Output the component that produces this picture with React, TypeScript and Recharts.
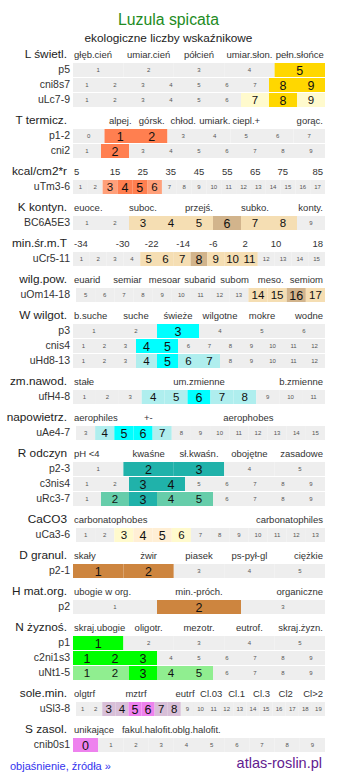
import React from 'react';
import { BarChart, Bar, XAxis, YAxis, Cell, LabelList } from 'recharts';

const FONT = '"Liberation Sans", Arial, Helvetica, sans-serif';
const GREY = '#eeeeee';
const LEFT = 73;
const RIGHT = 325;
const PAD = 3 / 252;

type Row = { name: string; from: number; to: number; strong: number[]; light?: number[]; pad?: boolean };
type Head = [string, number];

// ---- L świetl.
const L_HEADER: Head[] = [['głęb.cień', 0], ['umiar.cień', 1.5], ['półcień', 2.5], ['umiar.słon.', 3.5], ['pełn.słońce', 4.5]];
const L_ROWS: Row[] = [
  { name: 'p5', from: 1, to: 5, strong: [5] },
  { name: 'cni8s7', from: 1, to: 9, strong: [8, 9] },
  { name: 'uLc7-9', from: 1, to: 9, strong: [8], light: [7, 9] },
];
// ---- T termicz.
const T_HEADER: Head[] = [['alpej.', 1.5], ['górsk.', 2.5], ['chłod.', 3.5], ['umiark.', 4.5], ['ciepl.+', 5.5], ['gorąc.', 8]];
const T_ROWS: Row[] = [
  { name: 'p1-2', from: 0, to: 7, strong: [1, 2] },
  { name: 'cni2', from: 1, to: 9, strong: [2] },
];
// ---- kcal/cm2*r
const KCAL_HEADER: Head[] = [['5', 0], ['15', 2.83], ['25', 4.7], ['35', 6.6], ['45', 8.5], ['55', 10.4], ['65', 12.3], ['75', 14.15], ['85', 17]];
const KCAL_ROWS: Row[] = [{ name: 'uTm3-6', from: 1, to: 17, strong: [4, 5], light: [3, 6] }];
// ---- K kontyn.
const K_HEADER: Head[] = [['euoce.', 0], ['suboc.', 2.5], ['przejś.', 4.5], ['subko.', 6.5], ['konty.', 9]];
const K_ROWS: Row[] = [{ name: 'BC6A5E3', from: 1, to: 9, strong: [6], light: [3, 4, 5, 7, 8] }];
// ---- min.śr.m.T
const MT_HEADER: Head[] = [['-34', 0], ['-30', 2.96], ['-22', 4.68], ['-14', 6.56], ['-6', 8.35], ['2', 10.24], ['10', 12.08], ['18', 15]];
const MT_ROWS: Row[] = [{ name: 'uCr5-11', from: 1, to: 15, strong: [8], light: [5, 6, 7, 9, 10, 11] }];
// ---- wilg.pow.
const WP_HEADER: Head[] = [['euarid', 0], ['semiar', 2.69], ['mesoar', 4.63], ['subarid', 6.47], ['subom', 8.28], ['meso.', 10.17], ['semiom', 13]];
const WP_ROWS: Row[] = [{ name: 'uOm14-18', from: 5, to: 17, strong: [16], light: [14, 15, 17], pad: true }];
// ---- W wilgot.
const W_HEADER: Head[] = [['b.suche', 0], ['suche', 1.5], ['świeże', 2.5], ['wilgotne', 3.5], ['mokre', 4.5], ['wodne', 6]];
const W_ROWS: Row[] = [
  { name: 'p3', from: 1, to: 6, strong: [3] },
  { name: 'cnis4', from: 1, to: 12, strong: [4, 5] },
  { name: 'uHd8-13', from: 1, to: 12, strong: [5], light: [4, 6, 7] },
];
// ---- zm.nawod.
const ZN_HEADER: Head[] = [['stałe', 0], ['um.zmienne', 5.5], ['b.zmienne', 11]];
const ZN_ROWS: Row[] = [{ name: 'ufH4-8', from: 1, to: 11, strong: [6], light: [4, 5, 7, 8] }];
// ---- napowietrz.
const NP_HEADER: Head[] = [['aerophiles', 0], ['+-', 3.78], ['aerophobes', 9.0]];
const NP_ROWS: Row[] = [{ name: 'uAe4-7', from: 3, to: 15, strong: [5, 6], light: [4, 7], pad: true }];
// ---- R odczyn
const R_HEADER: Head[] = [['pH <4', 0], ['kwaśne', 1.5], ['sł.kwaśn.', 2.5], ['obojętne', 3.5], ['zasadowe', 5]];
const R_ROWS: Row[] = [
  { name: 'p2-3', from: 1, to: 5, strong: [2, 3] },
  { name: 'c3nis4', from: 1, to: 9, strong: [3, 4] },
  { name: 'uRc3-7', from: 1, to: 9, strong: [3], light: [2, 4, 5] },
];
// ---- CaCO3
const CA_HEADER: Head[] = [['carbonatophobes', 0], ['carbonatophiles', 13]];
const CA_ROWS: Row[] = [{ name: 'uCa3-6', from: 1, to: 13, strong: [4, 5], light: [3, 6], pad: true }];
// ---- D granul.
const D_HEADER: Head[] = [['skały', 0], ['żwir', 1.5], ['piasek', 2.5], ['ps-pył-gl', 3.5], ['ciężkie', 5]];
const D_ROWS: Row[] = [{ name: 'p2-1', from: 1, to: 5, strong: [1, 2] }];
// ---- H mat.org.
const H_HEADER: Head[] = [['ubogie w org.', 0], ['min.-próch.', 1.5], ['organiczne', 3]];
const H_ROWS: Row[] = [{ name: 'p2', from: 1, to: 3, strong: [2] }];
// ---- N żyznoś.
const N_HEADER: Head[] = [['skraj.ubogie', 0], ['oligotr.', 1.5], ['mezotr.', 2.5], ['eutrof.', 3.5], ['skraj.żyzn.', 5]];
const N_ROWS: Row[] = [
  { name: 'p1', from: 1, to: 5, strong: [1] },
  { name: 'c2ni1s3', from: 1, to: 9, strong: [1, 2, 3] },
  { name: 'uNt1-5', from: 1, to: 9, strong: [3], light: [1, 2, 4, 5] },
];
// ---- sole.min.
const SM_HEADER: Head[] = [['olgtrf', 0], ['mztrf', 4.58], ['eutrf', 8.32], ['Cl.03', 10.31], ['Cl.1', 12.26], ['Cl.3', 14.16], ['Cl2', 16.0], ['Cl>2', 19]];
const SM_ROWS: Row[] = [{ name: 'uSl3-8', from: 1, to: 19, strong: [5, 6], light: [3, 4, 7, 8], pad: true }];
// ---- S zasol.
const S_HEADER: Head[] = [['unikające', 0], ['fakul.halofit.', 2.95], ['oblg.halofit.', 4.9]];
const S_ROWS: Row[] = [{ name: 'cnib0s1', from: 0, to: 9, strong: [0] }];

const GROUPS = [
  { title: 'L świetl.', header: L_HEADER, rows: L_ROWS, colors: ['#ffd700', '#fffacd'] },
  { title: 'T termicz.', header: T_HEADER, rows: T_ROWS, colors: ['#ff7f50', '#ffa07a'] },
  { title: 'kcal/cm2*r', header: KCAL_HEADER, rows: KCAL_ROWS, colors: ['#ff7f50', '#ffa07a'] },
  { title: 'K kontyn.', header: K_HEADER, rows: K_ROWS, colors: ['#d2b48c', '#f5deb3'] },
  { title: 'min.śr.m.T', header: MT_HEADER, rows: MT_ROWS, colors: ['#d2b48c', '#f5deb3'] },
  { title: 'wilg.pow.', header: WP_HEADER, rows: WP_ROWS, colors: ['#d2b48c', '#f5deb3'] },
  { title: 'W wilgot.', header: W_HEADER, rows: W_ROWS, colors: ['#00ffff', '#afeeee'] },
  { title: 'zm.nawod.', header: ZN_HEADER, rows: ZN_ROWS, colors: ['#00ffff', '#afeeee'] },
  { title: 'napowietrz.', header: NP_HEADER, rows: NP_ROWS, colors: ['#00ffff', '#afeeee'] },
  { title: 'R odczyn', header: R_HEADER, rows: R_ROWS, colors: ['#20b2aa', '#66cdaa'] },
  { title: 'CaCO3', header: CA_HEADER, rows: CA_ROWS, colors: ['#ffefd5', '#fffacd'] },
  { title: 'D granul.', header: D_HEADER, rows: D_ROWS, colors: ['#cd853f', '#deb887'] },
  { title: 'H mat.org.', header: H_HEADER, rows: H_ROWS, colors: ['#cd853f', '#deb887'] },
  { title: 'N żyznoś.', header: N_HEADER, rows: N_ROWS, colors: ['#00ff00', '#90ee90'] },
  { title: 'sole.min.', header: SM_HEADER, rows: SM_ROWS, colors: ['#ee82ee', '#d8bfd8'] },
  { title: 'S zasol.', header: S_HEADER, rows: S_ROWS, colors: ['#ee82ee', '#d8bfd8'] },
];

const MAXC = 19;
const KEYS = Array.from({ length: MAXC }, (_, i) => i);
const HEAD_H = 21;
const ROW_H = 15;

function renderCellLabel(p: any) {
  const { value } = p;
  if (!value) return null;
  const x = Number(p.x), y = Number(p.y), w = Number(p.width), h = Number(p.height);
  const [lv, t] = String(value).split('|');
  const L = Number(lv);
  const fs = L === 2 ? 12.5 : L === 1 ? 11.5 : 6;
  return (
    <text x={x + w / 2} y={y + h / 2} dy={L ? fs * 0.36 : 2.2} textAnchor="middle" fontSize={fs}
      fill={L ? '#111' : '#555'} fontFamily={FONT}>{t}</text>
  );
}

function GroupChart({ g }: { g: any }) {
  const rows: Row[] = g.rows;
  const data = rows.map((r) => {
    const n = r.to - r.from + 1;
    const pad = r.pad ? PAD : 0;
    const w = (1 - pad) / n;
    const d: any = { name: r.name, pad };
    KEYS.forEach((i) => {
      if (i < n) {
        const v = r.from + i;
        const lvl = r.strong.includes(v) ? 2 : (r.light || []).includes(v) ? 1 : 0;
        d['c' + i] = w;
        d['t' + i] = lvl + '|' + v;
        d['l' + i] = lvl;
      } else {
        d['c' + i] = 0;
        d['t' + i] = '';
        d['l' + i] = 0;
      }
    });
    return d;
  });
  const ref = rows[0];
  const n0 = ref.to - ref.from + 1;
  const pad0 = ref.pad ? PAD : 0;
  const header: Head[] = g.header;
  const fr = header.map(([, p]) => (p <= 0 ? pad0 : p >= n0 ? 1 : pad0 + (p * (1 - pad0)) / n0));
  const height = HEAD_H + ROW_H * rows.length;

  const HeaderTick = (props: any) => {
    const idx = props.index;
    const item = header[idx];
    if (!item) return null;
    const [label, p] = item;
    let anchor: any = 'middle';
    let tx = Number(props.x);
    if (p <= 0) { anchor = 'start'; tx = LEFT + 1; }
    else if (p >= n0) { anchor = 'end'; tx = RIGHT - 2; }
    return <text x={tx} y={17} textAnchor={anchor} fontSize={9.5} fill="#333" fontFamily={FONT}>{label}</text>;
  };
  const RowTick = (props: any) => (
    <text x={70} y={Number(props.y)} dy={3.7} textAnchor="end" fontSize={10.5} fill="#333" fontFamily={FONT}>
      {props.payload.value}
    </text>
  );

  return (
    <div style={{ position: 'relative', width: 337, height }}>
      <div style={{ position: 'absolute', left: 0, top: 5, width: 67, textAlign: 'right', fontSize: 11.8,
        lineHeight: '16px', color: '#222', fontFamily: FONT, whiteSpace: 'nowrap' }}>{g.title}</div>
      <BarChart layout="vertical" width={337} height={height} data={data}
        margin={{ top: 0, right: 12, bottom: 0, left: 0 }} barCategoryGap={0} style={{ position: 'absolute', left: 0, top: 0 }}>
        <XAxis type="number" orientation="top" domain={[0, 1]} allowDataOverflow ticks={fr} interval={0}
          height={HEAD_H} axisLine={false} tickLine={false} tick={HeaderTick} />
        <YAxis type="category" dataKey="name" width={LEFT} axisLine={false} tickLine={false} interval={0} tick={RowTick} />
        <Bar dataKey="pad" stackId="s" fill="rgba(0,0,0,0)" isAnimationActive={false} barSize={14} />
        {KEYS.map((i) => (
          <Bar key={i} dataKey={'c' + i} stackId="s" isAnimationActive={false} barSize={14}>
            {data.map((d, ri) => (
              <Cell key={ri} fill={d['l' + i] === 2 ? g.colors[0] : d['l' + i] === 1 ? g.colors[1] : GREY} />
            ))}
            <LabelList dataKey={'t' + i} content={renderCellLabel} />
          </Bar>
        ))}
      </BarChart>
    </div>
  );
}

export default function App() {
  return (
    <div style={{ position: 'absolute', left: 0, top: 0, width: 337, height: 781, background: '#fff', fontFamily: FONT }}>
      <div style={{ position: 'absolute', top: 8, left: 0, width: 337, textAlign: 'center', fontSize: 15.8,
        lineHeight: '24px', color: '#228b22' }}>Luzula spicata</div>
      <div style={{ position: 'absolute', top: 31, left: 0, width: 337, textAlign: 'center', fontSize: 11.8,
        lineHeight: '14px', color: '#222' }}>ekologiczne liczby wskaźnikowe</div>
      <div style={{ position: 'absolute', top: 41, left: 0, width: 337 }}>
        {GROUPS.map((g, i) => <GroupChart key={i} g={g} />)}
      </div>
      <div style={{ position: 'absolute', top: 758, left: 10, fontSize: 11, lineHeight: '16px', color: '#3333ee' }}>
        objaśnienie, źródła »
      </div>
      <div style={{ position: 'absolute', top: 753, right: 15, fontSize: 14.5, lineHeight: '20px', color: '#63208f' }}>
        atlas-roslin.pl
      </div>
    </div>
  );
}
